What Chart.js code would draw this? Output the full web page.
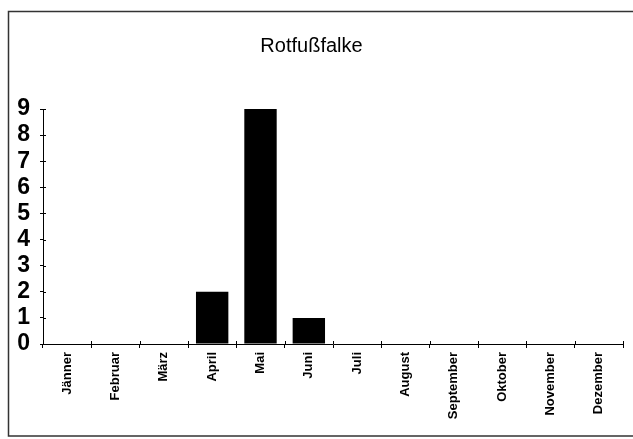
<!DOCTYPE html>
<html>
<head>
<meta charset="utf-8">
<script src="https://cdn.jsdelivr.net/npm/chart.js@4/dist/chart.umd.min.js"></script>
<style>
    body { margin: 0; background: #fff; }
    #wrap { position: relative; width: 633px; height: 439px; }
</style>
</head>
<body>
<div id="wrap"><canvas id="falkeChart" width="633" height="439"></canvas></div>
<script>
const months = ['Jänner', 'Februar', 'März', 'April', 'Mai', 'Juni', 'Juli',
    'August', 'September', 'Oktober', 'November', 'Dezember'];
const sightings = [0, 0, 0, 2, 9, 1, 0, 0, 0, 0, 0, 0];
const yTicks = [0, 1, 2, 3, 4, 5, 6, 7, 8, 9];
const chartTitle = 'Rotfußfalke';

// frame round the chart + tick marks that cross the axes
const framePlugin = {
    id: 'frame',
    beforeDraw(chart) {
        const c = chart.ctx;
        c.save();
        c.strokeStyle = '#333';
        c.lineWidth = 1.5;
        c.beginPath();
        c.moveTo(640, 11.5);
        c.lineTo(8.5, 11.5);
        c.lineTo(8.5, 436);
        c.lineTo(640, 436);
        c.stroke();
        c.restore();
    },
    afterDraw(chart) {
        const c = chart.ctx;
        const x = chart.scales.x, y = chart.scales.y;
        c.save();
        c.strokeStyle = '#000';
        c.lineWidth = 1;
        c.beginPath();
        y.ticks.forEach((t, i) => {
            const py = Math.round(y.getPixelForTick(i)) + 0.5;
            c.moveTo(x.left, py);
            c.lineTo(x.left + 3, py);
        });
        for (let i = 0; i <= months.length; i++) {
            const px = Math.round(x.left + i * (x.right - x.left) / months.length) + 0.5;
            c.moveTo(px, y.bottom);
            c.lineTo(px, y.bottom - 3);
        }
        c.stroke();
        c.restore();
    }
};

const ctx = document.getElementById('falkeChart').getContext('2d');
new Chart(ctx, {
    type: 'bar',
    data: {
        labels: months,
        datasets: [{
            data: sightings,
            backgroundColor: '#000',
            borderWidth: 0,
            categoryPercentage: 1,
            barPercentage: 0.67
        }]
    },
    options: {
        responsive: false,
        animation: false,
        layout: { padding: { top: 34, right: 10, left: 0, bottom: 0 } },
        plugins: {
            legend: { display: false },
            tooltip: { enabled: false },
            title: {
                display: true,
                text: chartTitle,
                color: '#000',
                font: { family: 'Liberation Sans', size: 20, weight: 'normal', lineHeight: 1.2 },
                padding: { top: 0, bottom: 51 }
            }
        },
        scales: {
            x: {
                grid: { display: true, drawOnChartArea: false, color: '#000', tickLength: 4, offset: true },
                border: { color: '#000', width: 1 },
                ticks: {
                    color: '#000',
                    minRotation: 90,
                    maxRotation: 90,
                    autoSkip: false,
                    padding: 4,
                    font: { family: 'Liberation Sans', size: 13, weight: 'bold' }
                },
                afterFit(scale) { scale.height = 95; }
            },
            y: {
                min: 0,
                max: 9,
                afterBuildTicks(scale) { scale.ticks = yTicks.map(v => ({ value: v })); },
                grid: { display: true, drawOnChartArea: false, color: '#000', tickLength: 3 },
                border: { color: '#000', width: 1 },
                ticks: {
                    color: '#000',
                    autoSkip: false,
                    padding: 10,
                    font: { family: 'Liberation Sans', size: 23, weight: 'bold' }
                },
                afterFit(scale) { scale.width = 43; }
            }
        }
    },
    plugins: [framePlugin]
});
</script>
</body>
</html>
